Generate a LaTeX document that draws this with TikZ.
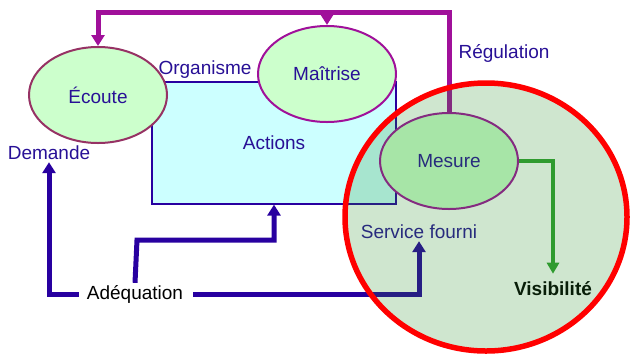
\documentclass[tikz,border=0pt]{standalone}
\usepackage{fontspec}
\setmainfont{Liberation Sans}
\usetikzlibrary{arrows.meta, shapes.geometric, positioning}
\definecolor{txtblue}{RGB}{40,16,150}
\definecolor{lineblue}{RGB}{40,0,160}
\definecolor{regulmag}{RGB}{160,16,154}
\definecolor{bordmaroon}{RGB}{150,50,100}
\definecolor{bubblegreen}{RGB}{204,255,204}
\definecolor{boxcyan}{RGB}{204,255,255}
\definecolor{visgreen}{RGB}{50,160,50}
\definecolor{tintgreen}{RGB}{37,139,37}

\tikzset{
	bubble/.style={ellipse, draw, line width=2pt, fill=bubblegreen, minimum width=138pt, minimum height=96pt},
	label/.style={inner sep=2pt},
	adeqline/.style={lineblue, line width=5pt, -{Triangle[length=11pt,width=13pt]}},
	regline/.style={regulmag, line width=5pt},
	regarrow/.style={regline, -{Triangle[length=11pt,width=13pt]}}
}

\begin{document}
\begin{tikzpicture}[x=1pt, y=-1pt, every node/.style={font=\fontsize{19}{21}\selectfont, text=txtblue}]
	\useasboundingbox (0,0) rectangle (631,357);

	% organisme
	\node[draw=lineblue, line width=1.2pt, fill=boxcyan, minimum width=244pt, minimum height=122pt] (actions) at (274,143) {Actions};
	\node[bubble, draw=bordmaroon] (ecoute) at (98,95) {Écoute};
	\node[bubble, draw=regulmag] (maitrise) at (327,74) {Maîtrise};
	\node[bubble, draw=regulmag] (mesure) at (449,161) {Mesure};
	\node[label] (organisme) at (205,70) {Organisme};

	% régulation
	\coordinate (top) at (0,12);
	\draw[regarrow] (mesure.north) -- (mesure.north |- top) -| (ecoute.north);
	\draw[regarrow] (maitrise.north |- top) -- (maitrise.north);
	\node[label] (regulation) at (504,53) {Régulation};

	% adéquation
	\node[label, text=black] (adeq) at (135,294) {Adéquation};
	\node[label] (demande) at (49,153) {Demande};
	\node[label] (service) at (419,232) {Service fourni};
	\coordinate (kink) at (137,240);
	\draw[adeqline] ([xshift=-6pt]adeq.west) -| (demande.south);
	\draw[adeqline] (adeq.north) -- (kink) -| (actions.south);
	\draw[adeqline] ([xshift=8pt]adeq.east) -| (service.south);

	% visibilité
	\node[label, text=black, font=\fontsize{19}{21}\selectfont\bfseries] (visib) at (553,289) {Visibilité};
	\draw[visgreen, line width=4pt, -{Triangle[length=11pt,width=12pt]}] (mesure.east) -| ([yshift=6pt]visib.north);

	% client
	\draw[red, line width=5.5pt, fill=tintgreen, fill opacity=0.22] (486,217) ellipse [x radius=141pt, y radius=134pt];
\end{tikzpicture}
\end{document}
